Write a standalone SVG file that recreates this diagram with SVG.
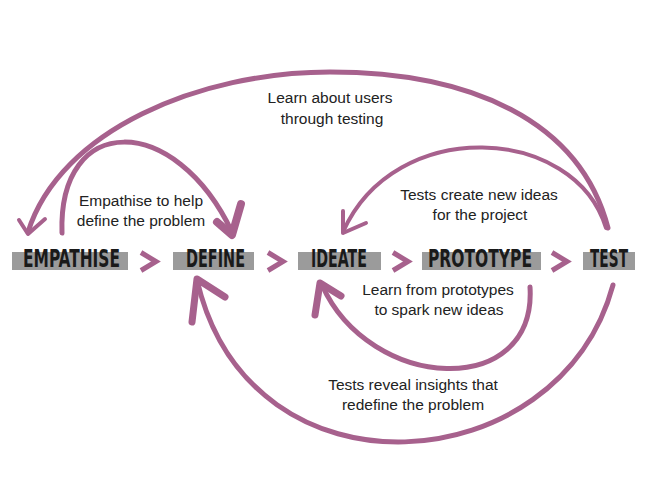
<svg xmlns="http://www.w3.org/2000/svg" width="647" height="482" viewBox="0 0 647 482">
<style>
.box{fill:#9b9b9b}
.lbl{font-family:"DejaVu Sans Condensed","Liberation Sans Narrow",sans-serif;font-weight:bold;font-size:25px;fill:#1a1a1a}
.txt{font-family:"Liberation Sans",Arial,sans-serif;font-size:15.5px;fill:#222;text-anchor:middle}
.arc{fill:none;stroke:#a7618d;stroke-linecap:round;stroke-linejoin:round}
.chev{fill:none;stroke:#a7618d;stroke-width:5;stroke-linecap:butt;stroke-linejoin:miter}
</style>
<rect width="647" height="482" fill="#fff"/>
<g id="connectors">
  <path class="arc" stroke-width="5" d="M 608 228 C 580 120 470 72 330 72 C 200 72 60 130 28 232"/>
  <path class="arc" stroke-width="4" d="M 19 220 L 28 234 L 45 219"/>
  <path class="arc" stroke-width="5" d="M 62 233 C 58 112 175 112 232 232"/>
  <path class="arc" stroke-width="8" d="M 217 222 L 232 235 L 241 204"/>
  <path class="arc" stroke-width="4" d="M 606 228 C 575 125 395 115 343 232"/>
  <path class="arc" stroke-width="4" d="M 343 211 L 343 233 L 366 223"/>
  <path class="arc" stroke-width="5" d="M 530 287 C 537 400 370 392 322 285"/>
  <path class="arc" stroke-width="7" d="M 315 315 L 320 283 L 341 296"/>
  <path class="arc" stroke-width="5" d="M 613 285 C 560 482 250 508 197 280"/>
  <path class="arc" stroke-width="7" d="M 192 322 L 197 279 L 225 297"/>
  <path class="chev" d="M 141 252.5 L 156 261.5 L 141 270.5"/>
  <path class="chev" d="M 268 252.5 L 283 261.5 L 268 270.5"/>
  <path class="chev" d="M 393 252.5 L 408 261.5 L 393 270.5"/>
  <path class="chev" d="M 552 252.5 L 567 261.5 L 552 270.5"/>
</g>
<g id="empathise">
  <rect class="box" x="12" y="252" width="116" height="18"/>
  <text class="lbl" x="23" y="267" textLength="97" lengthAdjust="spacingAndGlyphs">EMPATHISE</text>
</g>
<g id="define">
  <rect class="box" x="173" y="252" width="81" height="18"/>
  <text class="lbl" x="186" y="267" textLength="59" lengthAdjust="spacingAndGlyphs">DEFINE</text>
</g>
<g id="ideate">
  <rect class="box" x="298" y="252" width="83" height="18"/>
  <text class="lbl" x="311" y="267" textLength="56" lengthAdjust="spacingAndGlyphs">IDEATE</text>
</g>
<g id="prototype">
  <rect class="box" x="422" y="252" width="119" height="18"/>
  <text class="lbl" x="428" y="267" textLength="104" lengthAdjust="spacingAndGlyphs">PROTOTYPE</text>
</g>
<g id="test">
  <rect class="box" x="583" y="252" width="52" height="18"/>
  <text class="lbl" x="590" y="267" textLength="38" lengthAdjust="spacingAndGlyphs">TEST</text>
</g>
<g id="labels">
  <text class="txt" x="330" y="103">Learn about users</text>
  <text class="txt" x="332" y="124">through testing</text>
  <text class="txt" x="141" y="206">Empathise to help</text>
  <text class="txt" x="141" y="226">define the problem</text>
  <text class="txt" x="479" y="200">Tests create new ideas</text>
  <text class="txt" x="480" y="220">for the project</text>
  <text class="txt" x="438" y="295">Learn from prototypes</text>
  <text class="txt" x="439" y="315">to spark new ideas</text>
  <text class="txt" x="413" y="390">Tests reveal insights that</text>
  <text class="txt" x="413" y="410">redefine the problem</text>
</g>
</svg>
